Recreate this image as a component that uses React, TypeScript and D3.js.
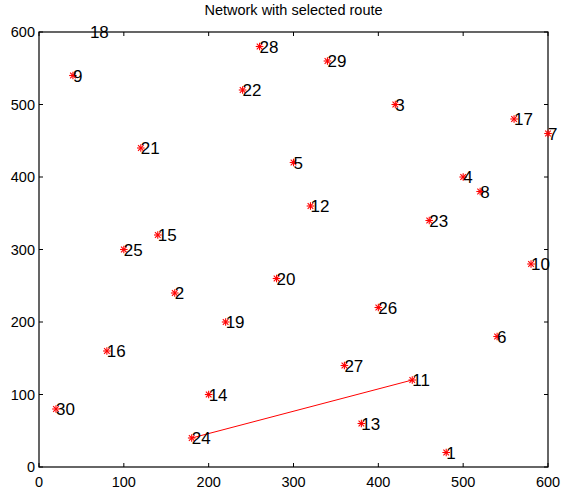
import React from "react";
import * as d3 from "d3";

const nodeIds = [1,2,3,4,5,6,7,8,9,10,11,12,13,14,15,16,17,18,19,20,21,22,23,24,25,26,27,28,29,30];
const nodeX = [480,160,420,500,300,540,600,520,40,580,440,320,380,200,140,80,560,60,220,280,120,240,460,180,100,400,360,260,340,20];
const nodeY = [20,240,500,400,420,180,460,380,540,280,120,360,60,100,320,160,480,600,200,260,440,520,340,40,300,220,140,580,560,80];
const hiddenMarkers = [18];
const route = [24, 11];
const xTicks = [0,100,200,300,400,500,600];
const yTicks = [0,100,200,300,400,500,600];
const title = "Network with selected route";

const W = 561, H = 493;
const L = 39, R = 548, T = 32, B = 467;
const FONT = "Liberation Sans, Arial, Helvetica, sans-serif";

export default function App() {
  const x = d3.scaleLinear().domain([0, 600]).range([L, R]);
  const y = d3.scaleLinear().domain([0, 600]).range([B, T]);
  const tl = 4;
  const routePts = route.map(id => {
    const i = nodeIds.indexOf(id);
    return [x(nodeX[i]), y(nodeY[i])] as [number, number];
  });
  const line = d3.line();
  const star = (cx: number, cy: number, k: number) => {
    const r = 3.8, d = 2.8;
    return (
      <g key={k} stroke="#ff0000" strokeWidth={1.1}>
        <line x1={cx - r} y1={cy} x2={cx + r} y2={cy} />
        <line x1={cx} y1={cy - r} x2={cx} y2={cy + r} />
        <line x1={cx - d} y1={cy - d} x2={cx + d} y2={cy + d} />
        <line x1={cx - d} y1={cy + d} x2={cx + d} y2={cy - d} />
      </g>
    );
  };
  return (
    <div style={{ position: "fixed", left: 0, top: 0 }}>
      <svg width={W} height={H} style={{ display: "block", background: "#fff" }} fontFamily={FONT}>
        <rect x={0} y={0} width={W} height={H} fill="#fff" />
        <text x={(L + R) / 2} y={15} textAnchor="middle" fontSize={14.5} fill="#000">{title}</text>
        {xTicks.map(t => (
          <g key={"xt" + t} stroke="#000" strokeWidth={1}>
            <line x1={x(t)} y1={B} x2={x(t)} y2={B - tl} />
            <line x1={x(t)} y1={T} x2={x(t)} y2={T + tl} />
          </g>
        ))}
        {yTicks.map(t => (
          <g key={"yt" + t} stroke="#000" strokeWidth={1}>
            <line x1={L} y1={y(t)} x2={L + tl} y2={y(t)} />
            <line x1={R} y1={y(t)} x2={R - tl} y2={y(t)} />
          </g>
        ))}
        <rect x={L} y={T} width={R - L} height={B - T} fill="none" stroke="#000" strokeWidth={1.2} />
        {xTicks.map(t => (
          <text key={"xl" + t} x={x(t)} y={487} textAnchor="middle" fontSize={14.5} fill="#000">{t}</text>
        ))}
        {yTicks.map(t => (
          <text key={"yl" + t} x={35} y={y(t) + 5} textAnchor="end" fontSize={14.5} fill="#000">{t}</text>
        ))}
        <path d={line(routePts) || ""} fill="none" stroke="#ff0000" strokeWidth={1} />
        {nodeIds.map((id, i) => hiddenMarkers.includes(id) ? null : star(x(nodeX[i]), y(nodeY[i]), id))}
        {nodeIds.map((id, i) => (
          <text key={"n" + id} x={x(nodeX[i])} y={y(nodeY[i]) + 6} fontSize={17} fill="#000">{id}</text>
        ))}
      </svg>
    </div>
  );
}
